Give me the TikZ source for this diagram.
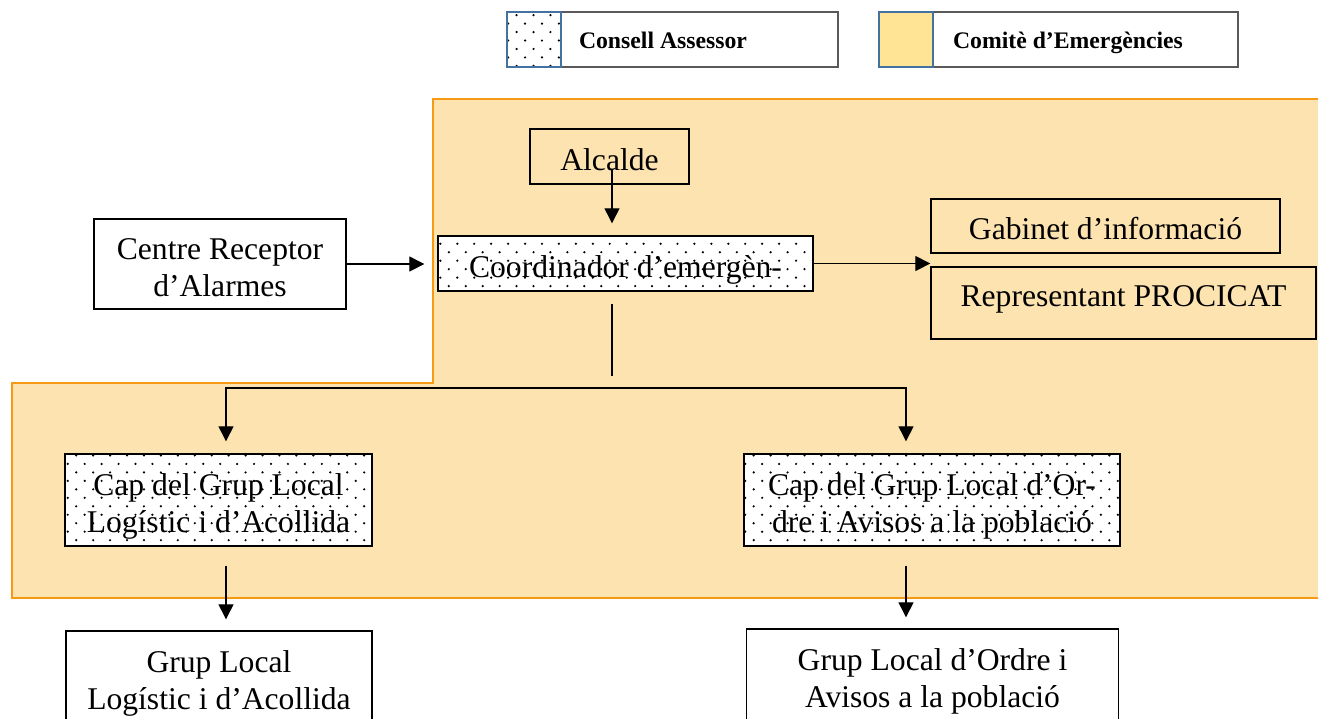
\documentclass[tikz,border=0pt]{standalone}
\usepackage{fontspec}
\setmainfont{Liberation Serif}
\usetikzlibrary{arrows.meta,patterns}

\pgfdeclarepatternformonly{sparsedots}{\pgfqpoint{-1pt}{-1pt}}{\pgfqpoint{10.64pt}{10.64pt}}{\pgfqpoint{9.64pt}{9.64pt}}{%
  \pgfpathcircle{\pgfqpoint{0pt}{0pt}}{0.7pt}%
  \pgfpathcircle{\pgfqpoint{4.82pt}{4.82pt}}{0.7pt}%
  \pgfusepath{fill}}

\definecolor{comitefill}{RGB}{253,227,176}
\definecolor{comiteline}{RGB}{247,154,19}
\definecolor{legendblue}{RGB}{68,114,160}
\definecolor{legendyellow}{RGB}{255,228,150}

% line strut as a word processor sets it
\newcommand{\wstrut}{\rule[-0.216em]{0pt}{1.3em}}
\newcommand{\wdepth}{\rule[-0.216em]{0pt}{0.216em}}

\begin{document}
\begin{tikzpicture}[x=0.02cm,y=-0.02cm,>={Triangle[length=0.3cm,width=0.3cm]},
        line width=0.7pt,
        box/.style={draw,line width=0.8pt,inner sep=0pt,align=center,
          font=\fontsize{18}{21.3}\selectfont,
          execute at begin node=\wstrut,execute at end node=\wdepth},
        dotbox/.style={box,preaction={fill=white},pattern=sparsedots},
        legbox/.style={draw=black!65,line width=0.6pt,inner sep=0pt,minimum height=1.1cm},
        legsquare/.style={draw=legendblue,line width=1.2pt,inner sep=0pt,anchor=west,
          minimum width=1.08cm,minimum height=1.1cm},
        legtext/.style={font=\fontsize{13.5}{16}\selectfont\bfseries,
          execute at begin node=\wstrut}]

    \useasboundingbox (0,0) rectangle (1318,718);
    \clip (0,0) rectangle (1318,718);

    % area of the Comite
    \filldraw[fill=comitefill,draw=comiteline,line width=1.1pt]
        (433,99) -- (1330,99) -- (1330,598) -- (12,598) -- (12,383) -- (433,383) -- cycle;

    % legend
    \node[legbox,minimum width=6.64cm] (legca) at (672,39.5) {};
    \node[legsquare,preaction={fill=white},pattern=sparsedots] (sqca) at (legca.west) {};
    \node[legtext] (txtca) at (663,38) {Consell Assessor};
    \node[legbox,minimum width=7.2cm] (legce) at (1058,39.5) {};
    \node[legsquare,fill=legendyellow] (sqce) at (legce.west) {};
    \node[legtext] (txtce) at (1068,38) {Comitè d’Emergències};

    % boxes
    \node[box,minimum width=3.18cm,minimum height=1.1cm] (alcalde) at (609.5,156.5) {Alcalde};
    \node[box,minimum width=5.04cm,minimum height=1.8cm] (centre) at (220,264) {\wstrut Centre Receptor\\d’Alarmes\wdepth};
    \node[dotbox,minimum width=7.5cm,minimum height=1.1cm] (coord) at (625.5,263.5) {Coordinador d’emergèn-};
    \node[box,minimum width=6.98cm,minimum height=1.08cm] (gabinet) at (1105.5,226) {Gabinet d’informació};
    \node[box,minimum width=7.7cm,text height=0.78cm,text depth=0.66cm] (repr) at (1123.5,303) {Representant PROCICAT};
    \node[dotbox,minimum width=6.14cm,minimum height=1.84cm] (caplog) at (218.5,500) {\wstrut Cap del Grup Local\\Logístic i d’Acollida\wdepth};
    \node[dotbox,minimum width=7.52cm,minimum height=1.84cm] (capord) at (932,500) {\wstrut Cap del Grup Local d’Or-\\dre i Avisos a la població\wdepth};
    \node[box,minimum width=6.12cm,minimum height=1.84cm] (grplog) at (219,677) {\wstrut Grup Local\\Logístic i d’Acollida\wdepth};
    \node[box,minimum width=7.44cm,minimum height=1.84cm] (grpord) at (932.5,675) {\wstrut Grup Local d’Ordre i\\Avisos a la població\wdepth};

    % connectors
    \coordinate (alcfoot) at (612,170);
    \coordinate (split) at (612,376);
    \coordinate (busl) at (226,388);
    \coordinate (busr) at (906,388);

    \draw[->,shorten >=0.24cm] (alcfoot) -- (alcfoot |- coord.north);
    \draw[->,shorten >=0.26cm] (centre.east) -- (centre.east -| coord.west);
    \draw[->] (coord.east) -- (coord.east -| repr.west);
    \draw (split |- coord.south) ++(0,-0.24cm) -- (split);
    \draw[<->,shorten <=0.24cm,shorten >=0.24cm]
        (busl |- caplog.north) -- (busl) -- (busr) -- (busr |- capord.north);
    \draw[->,shorten >=0.22cm] (busl |- caplog.south) ++(0,-0.38cm) -- (busl |- grplog.north);
    \draw[->,shorten >=0.22cm] (busr |- capord.south) ++(0,-0.38cm) -- (busr |- grpord.north);
\end{tikzpicture}
\end{document}
